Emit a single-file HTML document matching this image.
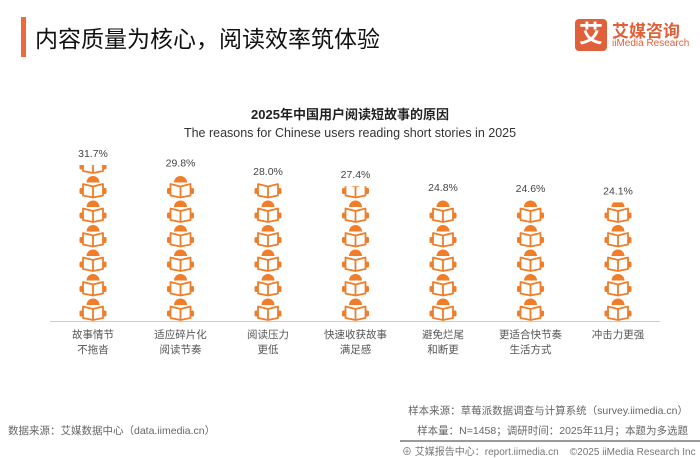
<!DOCTYPE html>
<html><head><meta charset="utf-8"><style>
body{margin:0;width:700px;height:455px;background:#fff;font-family:"Liberation Sans","Noto Sans CJK SC",sans-serif;position:relative;overflow:hidden;color:#333}
.abs{position:absolute}
</style></head><body>
<div class="abs" style="left:21px;top:17px;width:5px;height:40px;background:#ef6a3a"></div>
<div class="abs" style="left:35px;top:20px;font-size:23px;color:#111">内容质量为核心，阅读效率筑体验</div>
<div class="abs" style="left:575px;top:19px;width:32px;height:32px;background:#e0603a;border-radius:4px;color:#fff;font-size:24px;text-align:center;line-height:32px;font-weight:bold">艾</div>
<div class="abs" style="left:612px;top:17px;font-size:17px;color:#e0603a;font-weight:bold">艾媒咨询</div>
<div class="abs" style="left:612px;top:38px;font-size:10px;color:#e0603a">iiMedia Research</div>
<div class="abs" style="left:0;width:700px;top:104px;text-align:center;font-size:13px;font-weight:bold;color:#222">2025年中国用户阅读短故事的原因</div>
<div class="abs" style="left:0;width:700px;top:126px;text-align:center;font-size:12.5px;color:#333">The reasons for Chinese users reading short stories in 2025</div>
<svg class="abs" style="left:0;top:0" width="700" height="455" id="chart"></svg>
<div class="abs" style="right:12px;top:403px;font-size:10.5px;color:#666">样本来源：草莓派数据调查与计算系统（survey.iimedia.cn）</div>
<div class="abs" style="right:12px;top:423px;font-size:10.5px;color:#666">样本量：N=1458；调研时间：2025年11月；本题为多选题</div>
<div class="abs" style="left:8px;top:423px;font-size:10.5px;color:#666">数据来源：艾媒数据中心（data.iimedia.cn）</div>
<div class="abs" style="left:400px;top:440px;width:300px;height:2px;background:#999"></div>
<div class="abs" style="left:402px;top:443px;font-size:10px;color:#777;white-space:nowrap">⊕ 艾媒报告中心：report.iimedia.cn &nbsp;&nbsp; ©2025 iiMedia Research Inc</div>
<script>
const categories=[["故事情节","不拖沓"],["适应碎片化","阅读节奏"],["阅读压力","更低"],["快速收获故事","满足感"],["避免烂尾","和断更"],["更适合快节奏","生活方式"],["冲击力更强",""]];
const values=[31.7,29.8,28.0,27.4,24.8,24.6,24.1];
const labels=["31.7%","29.8%","28.0%","27.4%","24.8%","24.6%","24.1%"];
const NS="http://www.w3.org/2000/svg";
const svg=document.getElementById('chart');
const base=321, k=4.92, x0=93, step=87.5, iconH=24.5;
function y(v){return base-v*k;}
function xc(i){return x0+i*step;}
function mk(t,a){const e=document.createElementNS(NS,t);for(const n in a)e.setAttribute(n,a[n]);return e;}
const axis=mk('line',{x1:50,x2:660,y1:base+0.5,y2:base+0.5,stroke:'#ccc','stroke-width':1});


svg.appendChild(axis);
const defs=mk('defs',{});svg.appendChild(defs);
values.forEach((v,i)=>{
  const cx=xc(i);
  const cp=mk('clipPath',{id:'c'+i});
  cp.appendChild(mk('rect',{x:cx-20,y:y(v),width:40,height:base-y(v)}));
  defs.appendChild(cp);
  const g=mk('g',{'clip-path':'url(#c'+i+')',fill:'#ef7d2a',stroke:'#ef7d2a'});
  
  
  for(let b=base;b>y(v)-iconH;b-=iconH){
    const t=b-iconH;
    g.appendChild(mk('path',{d:`M${cx-6.5} ${t+8.5} A6.5 6.5 0 0 1 ${cx+6.5} ${t+8.5} Z`,stroke:'none'}));
    g.appendChild(mk('path',{d:`M${cx-10} ${t+10} L${cx} ${t+12.5} L${cx+10} ${t+10} L${cx+10} ${t+21.5} L${cx} ${t+23.5} L${cx-10} ${t+21.5} Z M${cx} ${t+12.5} L${cx} ${t+23.5}`,fill:'none','stroke-width':1.8,'stroke-linejoin':'round'}));
    g.appendChild(mk('rect',{x:cx-13.5,y:t+14,width:3.5,height:6,rx:1.5,stroke:'none'}));
    g.appendChild(mk('rect',{x:cx+10,y:t+14,width:3.5,height:6,rx:1.5,stroke:'none'}));
  }
  svg.appendChild(g);
  const tl=mk('text',{x:cx,y:y(v)-8,'text-anchor':'middle','font-size':10.5,fill:'#444'});
  tl.textContent=labels[i];
  
  
  svg.appendChild(tl);
  categories[i].forEach((s,j)=>{
    const c=mk('text',{x:cx,y:base+17+j*15,'text-anchor':'middle','font-size':10.5,fill:'#555'});
    c.textContent=s;
    
    
    svg.appendChild(c);
  });
});
</script>
</body></html>
